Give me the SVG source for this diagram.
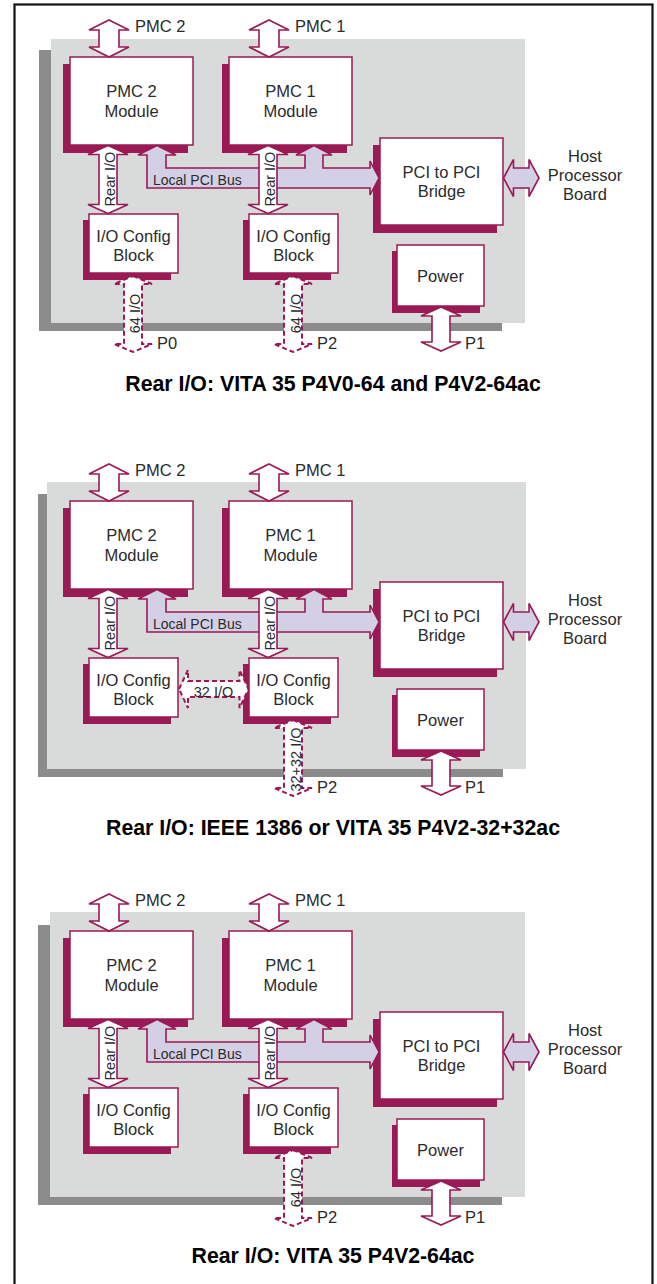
<svg xmlns="http://www.w3.org/2000/svg" width="657" height="1284" viewBox="0 0 657 1284">
<style>
.board{fill:#d9dbdb}
.boardsh{fill:#8c8c8c}
.sh{fill:#9a1a55}
.box{fill:#fff;stroke:#9a1a55;stroke-width:1.5}
.t{font-family:"Liberation Sans",Arial,sans-serif;font-size:16.5px;fill:#2b2b2b;text-anchor:middle}
.l{text-anchor:start}
.s{font-size:14.5px}
.ar{fill:#fff;stroke:#9a1a55;stroke-width:1.6}
.bus{fill:#d3cfe5;stroke:#9a1a55;stroke-width:1.6}
.da{fill:#fff;stroke:#9a1a55;stroke-width:2;stroke-dasharray:5 3}
.title{font-family:"Liberation Sans",Arial,sans-serif;font-weight:bold;font-size:21.3px;fill:#000;text-anchor:middle}
</style>
<rect x="0" y="0" width="657" height="1284" fill="#fff"/>
<rect x="14.5" y="4.5" width="638" height="1295" fill="none" stroke="#111" stroke-width="2.2"/>

<!-- ===== Panel 1 ===== -->
<g id="panel1">
  <g id="p1-board">
    <rect class="boardsh" x="39" y="50" width="463" height="281"/>
    <rect class="board" x="51" y="39" width="474" height="284"/>
  </g>
  <g id="p1-pmc2">
    <rect class="sh" x="63" y="64" width="125" height="89"/>
    <rect class="box" x="70" y="57" width="123" height="88"/>
    <text class="t" x="131.5" y="97">PMC 2</text>
    <text class="t" x="131.5" y="116.5">Module</text>
  </g>
  <g id="p1-pmc1">
    <rect class="sh" x="222" y="64" width="125" height="89"/>
    <rect class="box" x="229" y="57" width="123" height="88"/>
    <text class="t" x="290.5" y="97">PMC 1</text>
    <text class="t" x="290.5" y="116.5">Module</text>
  </g>
  <g id="p1-io2">
    <rect class="sh" x="83" y="220" width="88" height="60"/>
    <rect class="box" x="89" y="214" width="89" height="59"/>
    <text class="t" x="133.5" y="241.5">I/O Config</text>
    <text class="t" x="133.5" y="260.5">Block</text>
  </g>
  <g id="p1-io1">
    <rect class="sh" x="243" y="220" width="88" height="60"/>
    <rect class="box" x="249" y="214" width="89" height="59"/>
    <text class="t" x="293.5" y="241.5">I/O Config</text>
    <text class="t" x="293.5" y="260.5">Block</text>
  </g>
  <g id="p1-bridge">
    <rect class="sh" x="373" y="145" width="124" height="88"/>
    <rect class="box" x="380" y="138" width="123" height="87"/>
    <text class="t" x="441.5" y="178">PCI to PCI</text>
    <text class="t" x="441.5" y="197">Bridge</text>
  </g>
  <g id="p1-power">
    <rect class="sh" x="392" y="251" width="88" height="62"/>
    <rect class="box" x="397" y="245" width="87" height="61"/>
    <text class="t" x="440.5" y="282">Power</text>
  </g>
  <g id="p1-host">
    <text class="t" x="585" y="162">Host</text>
    <text class="t" x="585" y="181">Processor</text>
    <text class="t" x="585" y="200">Board</text>
  </g>
  <g id="p1-connectors">
    <polygon class="ar" points="109,20 129,30 119,30 119,47 129,47 109,57 89,47 99,47 99,30 89,30"/>
    <polygon class="ar" points="269,20 289,30 279,30 279,47 289,47 269,57 249,47 259,47 259,30 249,30"/>
    <polygon class="bus" points="157,145.5 176,155 166,155 166,168 305,168 305,155 296,155 314,145.5 332,155 323,155 323,168 370,168 370,161 379,178 370,195 370,188 147,188 147,155 138,155"/>
    <polygon class="ar" points="108,145.5 128,154.5 117,154.5 117,204.5 128,204.5 108,213.5 88,204.5 99,204.5 99,154.5 88,154.5"/>
    <polygon class="ar" points="268,145.5 288,154.5 277,154.5 277,204.5 288,204.5 268,213.5 248,204.5 259,204.5 259,154.5 248,154.5"/>
    <polygon class="bus" points="503.5,178 513.5,159.5 513.5,168 529,168 529,159.5 539,178 529,196.5 529,188 513.5,188 513.5,196.5"/>
    <polygon class="ar" points="441,307 461,316 450,316 450,342 461,342 441,351 421,342 432,342 432,316 421,316"/>
    <polygon class="da" points="133,276 152,284 142,284 142,344 152,344 133,352 114,344 124,344 124,284 114,284"/>
    <polygon class="da" points="293,276 312,284 302,284 302,344 312,344 293,352 274,344 284,344 284,284 274,284"/>
    <text class="t s" x="108" y="0" transform="translate(114.5,179) rotate(-90)" dx="-108">Rear I/O</text>
    <text class="t s" transform="translate(274.5,179) rotate(-90)">Rear I/O</text>
    <text class="t s l" x="153" y="185" style="font-size:14px">Local PCI Bus</text>
    <text class="t s" transform="translate(140,313.5) rotate(-90)">64 I/O</text>
    <text class="t s" transform="translate(300.5,313.5) rotate(-90)">64 I/O</text>
    <text class="t l" x="135" y="32">PMC 2</text>
    <text class="t l" x="295" y="32">PMC 1</text>
    <text class="t l" x="157" y="348.5">P0</text>
    <text class="t l" x="317" y="348.5">P2</text>
    <text class="t l" x="465" y="348.5">P1</text>
  </g>
  <text class="title" x="333" y="390.5">Rear I/O: VITA 35 P4V0-64 and P4V2-64ac</text>
</g>

<!-- ===== Panel 2 ===== -->
<g id="panel2" transform="translate(0,444)">
  <g id="p2-board">
    <rect class="boardsh" x="38" y="50" width="465" height="283"/>
    <rect class="board" x="47" y="38" width="479" height="287"/>
  </g>
  <g id="p2-pmc2">
    <rect class="sh" x="63" y="64" width="125" height="89"/>
    <rect class="box" x="70" y="57" width="123" height="88"/>
    <text class="t" x="131.5" y="97">PMC 2</text>
    <text class="t" x="131.5" y="116.5">Module</text>
  </g>
  <g id="p2-pmc1">
    <rect class="sh" x="222" y="64" width="125" height="89"/>
    <rect class="box" x="229" y="57" width="123" height="88"/>
    <text class="t" x="290.5" y="97">PMC 1</text>
    <text class="t" x="290.5" y="116.5">Module</text>
  </g>
  <g id="p2-io2">
    <rect class="sh" x="83" y="220" width="88" height="60"/>
    <rect class="box" x="89" y="214" width="89" height="59"/>
    <text class="t" x="133.5" y="241.5">I/O Config</text>
    <text class="t" x="133.5" y="260.5">Block</text>
  </g>
  <g id="p2-io1">
    <rect class="sh" x="243" y="220" width="88" height="60"/>
    <rect class="box" x="249" y="214" width="89" height="59"/>
    <text class="t" x="293.5" y="241.5">I/O Config</text>
    <text class="t" x="293.5" y="260.5">Block</text>
  </g>
  <g id="p2-bridge">
    <rect class="sh" x="373" y="145" width="124" height="88"/>
    <rect class="box" x="380" y="138" width="123" height="87"/>
    <text class="t" x="441.5" y="178">PCI to PCI</text>
    <text class="t" x="441.5" y="197">Bridge</text>
  </g>
  <g id="p2-power">
    <rect class="sh" x="392" y="251" width="88" height="62"/>
    <rect class="box" x="397" y="245" width="87" height="61"/>
    <text class="t" x="440.5" y="282">Power</text>
  </g>
  <g id="p2-host">
    <text class="t" x="585" y="162">Host</text>
    <text class="t" x="585" y="181">Processor</text>
    <text class="t" x="585" y="200">Board</text>
  </g>
  <g id="p2-connectors">
    <polygon class="ar" points="109,20 129,30 119,30 119,47 129,47 109,57 89,47 99,47 99,30 89,30"/>
    <polygon class="ar" points="269,20 289,30 279,30 279,47 289,47 269,57 249,47 259,47 259,30 249,30"/>
    <polygon class="bus" points="157,145.5 176,155 166,155 166,168 305,168 305,155 296,155 314,145.5 332,155 323,155 323,168 370,168 370,161 379,178 370,195 370,188 147,188 147,155 138,155"/>
    <polygon class="ar" points="108,145.5 128,154.5 117,154.5 117,204.5 128,204.5 108,213.5 88,204.5 99,204.5 99,154.5 88,154.5"/>
    <polygon class="ar" points="268,145.5 288,154.5 277,154.5 277,204.5 288,204.5 268,213.5 248,204.5 259,204.5 259,154.5 248,154.5"/>
    <polygon class="bus" points="503.5,178 513.5,159.5 513.5,168 529,168 529,159.5 539,178 529,196.5 529,188 513.5,188 513.5,196.5"/>
    <polygon class="ar" points="441,307 461,316 450,316 450,342 461,342 441,351 421,342 432,342 432,316 421,316"/>
    <polygon class="da" points="179,245 188,226 188,237 239.5,237 239.5,226 248.5,245 239.5,264 239.5,253 188,253 188,264"/>
    <polygon class="da" points="293,276 312,284 302,284 302,344 312,344 293,352 274,344 284,344 284,284 274,284"/>
    <text class="t s" transform="translate(114.5,179) rotate(-90)">Rear I/O</text>
    <text class="t s" transform="translate(274.5,179) rotate(-90)">Rear I/O</text>
    <text class="t s l" x="153" y="185" style="font-size:14px">Local PCI Bus</text>
    <text class="t s" x="213.5" y="252.5">32 I/O</text>
    <text class="t s" transform="translate(300.5,315.5) rotate(-90)">32+32 I/O</text>
    <text class="t l" x="135" y="32">PMC 2</text>
    <text class="t l" x="295" y="32">PMC 1</text>
    <text class="t l" x="317" y="348.5">P2</text>
    <text class="t l" x="465" y="348.5">P1</text>
  </g>
  <text class="title" x="333" y="390.5">Rear I/O: IEEE 1386 or VITA 35 P4V2-32+32ac</text>
</g>

<!-- ===== Panel 3 ===== -->
<g id="panel3" transform="translate(0,874)">
  <g id="p3-board">
    <rect class="boardsh" x="38" y="51" width="464" height="280"/>
    <rect class="board" x="50" y="38" width="475" height="285"/>
  </g>
  <g id="p3-pmc2">
    <rect class="sh" x="63" y="64" width="125" height="89"/>
    <rect class="box" x="70" y="57" width="123" height="88"/>
    <text class="t" x="131.5" y="97">PMC 2</text>
    <text class="t" x="131.5" y="116.5">Module</text>
  </g>
  <g id="p3-pmc1">
    <rect class="sh" x="222" y="64" width="125" height="89"/>
    <rect class="box" x="229" y="57" width="123" height="88"/>
    <text class="t" x="290.5" y="97">PMC 1</text>
    <text class="t" x="290.5" y="116.5">Module</text>
  </g>
  <g id="p3-io2">
    <rect class="sh" x="83" y="220" width="88" height="60"/>
    <rect class="box" x="89" y="214" width="89" height="59"/>
    <text class="t" x="133.5" y="241.5">I/O Config</text>
    <text class="t" x="133.5" y="260.5">Block</text>
  </g>
  <g id="p3-io1">
    <rect class="sh" x="243" y="220" width="88" height="60"/>
    <rect class="box" x="249" y="214" width="89" height="59"/>
    <text class="t" x="293.5" y="241.5">I/O Config</text>
    <text class="t" x="293.5" y="260.5">Block</text>
  </g>
  <g id="p3-bridge">
    <rect class="sh" x="373" y="145" width="124" height="88"/>
    <rect class="box" x="380" y="138" width="123" height="87"/>
    <text class="t" x="441.5" y="178">PCI to PCI</text>
    <text class="t" x="441.5" y="197">Bridge</text>
  </g>
  <g id="p3-power">
    <rect class="sh" x="392" y="251" width="88" height="62"/>
    <rect class="box" x="397" y="245" width="87" height="61"/>
    <text class="t" x="440.5" y="282">Power</text>
  </g>
  <g id="p3-host">
    <text class="t" x="585" y="162">Host</text>
    <text class="t" x="585" y="181">Processor</text>
    <text class="t" x="585" y="200">Board</text>
  </g>
  <g id="p3-connectors">
    <polygon class="ar" points="109,20 129,30 119,30 119,47 129,47 109,57 89,47 99,47 99,30 89,30"/>
    <polygon class="ar" points="269,20 289,30 279,30 279,47 289,47 269,57 249,47 259,47 259,30 249,30"/>
    <polygon class="bus" points="157,145.5 176,155 166,155 166,168 305,168 305,155 296,155 314,145.5 332,155 323,155 323,168 370,168 370,161 379,178 370,195 370,188 147,188 147,155 138,155"/>
    <polygon class="ar" points="108,145.5 128,154.5 117,154.5 117,204.5 128,204.5 108,213.5 88,204.5 99,204.5 99,154.5 88,154.5"/>
    <polygon class="ar" points="268,145.5 288,154.5 277,154.5 277,204.5 288,204.5 268,213.5 248,204.5 259,204.5 259,154.5 248,154.5"/>
    <polygon class="bus" points="503.5,178 513.5,159.5 513.5,168 529,168 529,159.5 539,178 529,196.5 529,188 513.5,188 513.5,196.5"/>
    <polygon class="ar" points="441,307 461,316 450,316 450,342 461,342 441,351 421,342 432,342 432,316 421,316"/>
    <polygon class="da" points="293,276 312,284 302,284 302,344 312,344 293,352 274,344 284,344 284,284 274,284"/>
    <text class="t s" transform="translate(114.5,179) rotate(-90)">Rear I/O</text>
    <text class="t s" transform="translate(274.5,179) rotate(-90)">Rear I/O</text>
    <text class="t s l" x="153" y="185" style="font-size:14px">Local PCI Bus</text>
    <text class="t s" transform="translate(300.5,313.5) rotate(-90)">64 I/O</text>
    <text class="t l" x="135" y="32">PMC 2</text>
    <text class="t l" x="295" y="32">PMC 1</text>
    <text class="t l" x="317" y="348.5">P2</text>
    <text class="t l" x="465" y="348.5">P1</text>
  </g>
  <text class="title" x="333" y="389">Rear I/O: VITA 35 P4V2-64ac</text>
</g>
</svg>
